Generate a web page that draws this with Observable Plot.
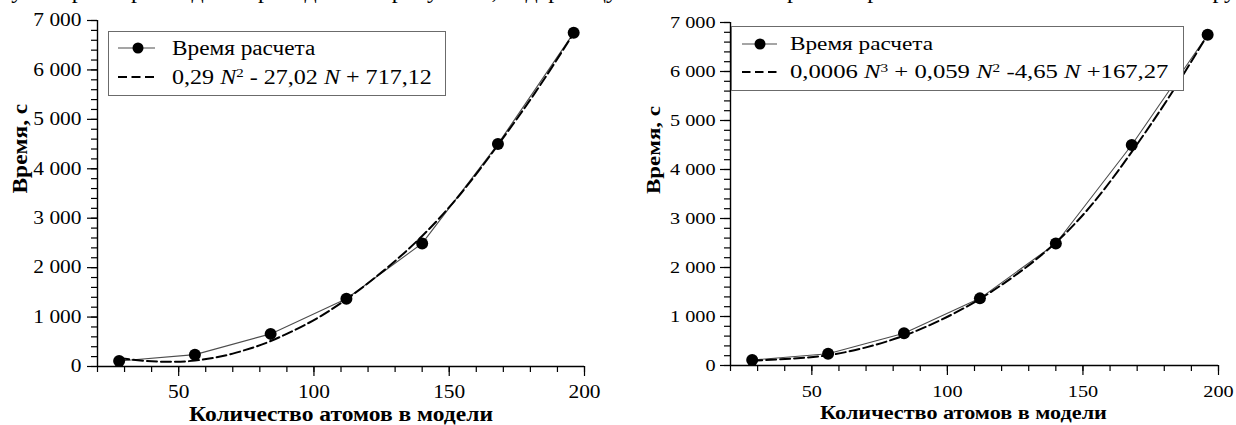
<!DOCTYPE html>
<html><head><meta charset="utf-8">
<script src="https://cdn.jsdelivr.net/npm/d3@7"></script>
<script src="https://cdn.jsdelivr.net/npm/@observablehq/plot@0.6"></script>
<style>
html,body{margin:0;padding:0;background:#fff;}
#root{position:relative;width:1236px;height:425px;overflow:hidden;font-family:"Liberation Serif","Times New Roman",serif;color:#000;}
.panel{position:absolute;top:0;}
.legend{position:absolute;box-sizing:border-box;border:1.5px solid #6b6b6b;background:#fff;}
.sw{position:absolute;left:0;top:0;overflow:visible;pointer-events:none}
.ltext{position:absolute;white-space:nowrap;display:inline-block;transform-origin:0 50%;line-height:24px;font-family:"Liberation Serif","Times New Roman",serif;}
.sup{font-size:0.62em;position:relative;top:-0.55em;line-height:0}
.topline{position:absolute;left:0;top:-22px;font-size:24px;line-height:24px;white-space:nowrap}
</style></head>
<body><div id="root"></div>
<script>
// ---- data ----
const atoms = [28, 56, 84, 112, 140, 168, 196];
const calcTime = [110, 240, 660, 1370, 2490, 4500, 6750];
const quadN = [28, 35, 42, 49, 56, 63, 70, 77, 84, 98, 112, 126, 140, 154, 168, 182, 196];
const quadTime = [170, 125, 100, 95, 120, 175, 260, 375, 515, 880, 1360, 1950, 2640, 3480, 4480, 5560, 6740];
const cubicN = [28, 42, 56, 70, 84, 98, 112, 126, 140, 154, 168, 182, 196];
const cubicTime = [95, 140, 210, 370, 610, 940, 1360, 1880, 2510, 3330, 4360, 5500, 6750];
const xTickValues = [50, 100, 150, 200];
const yTickValues = [0, 1000, 2000, 3000, 4000, 5000, 6000, 7000];
const xTitle = "Количество атомов в модели";
const yTitle = "Время, с";
const seriesName = "Время расчета";
const quadLabel = '0,29 <i>N</i><span class="sup">2</span> - 27,02 <i>N</i> + 717,12';
const cubicLabel = '0,0006 <i>N</i><span class="sup">3</span> + 0,059 <i>N</i><span class="sup">2</span> -4,65 <i>N</i> +167,27';
const topText = "ку и параметры модели приведены на рисунке 5, содержащую зависимость времени расчета от количества атомов в структуре и их аппроксимацию.";

const root = document.getElementById("root");
const fmt = d => d3.format(",")(d).replace(/,/g, " ");

function scaleX(t, s) {
  let tr = t.getAttribute("transform") || "";
  const x = +(t.getAttribute("x") || 0), y = +(t.getAttribute("y") || 0);
  if (x || y) { tr += ` translate(${x},${y})`; t.removeAttribute("x"); t.removeAttribute("y"); }
  t.setAttribute("transform", tr + ` scale(${s},1)`);
}

function textsOf(svg, label) {
  const out = [];
  svg.querySelectorAll(`[aria-label="${label}"]`).forEach(el => {
    if (el.tagName.toLowerCase() === "text") out.push(el);
    else el.querySelectorAll("text").forEach(t => out.push(t));
  });
  return out;
}

function makeChart(o) {
  const pts = atoms.map((n, i) => ({n, t: calcTime[i]}));
  const fit = o.fitN.map((n, i) => ({n, t: o.fitT[i]}));
  const svg = Plot.plot({
    width: o.width, height: 425,
    marginLeft: o.mL, marginRight: o.mR, marginTop: o.mT, marginBottom: o.mB,
    style: {fontFamily: '"Liberation Serif", "Times New Roman", serif', fontSize: o.fs + "px", color: "#000", background: "transparent", overflow: "visible"},
    x: {domain: [20, 200], label: null},
    y: {domain: [0, 7000], label: null},
    marks: [
      Plot.axisX({ticks: d3.range(20, 201, 10), tickSize: 6, tickFormat: () => "", label: null, strokeWidth: 1.2}),
      Plot.axisX({ticks: xTickValues, tickSize: 10, tickPadding: o.xPad, label: null, strokeWidth: 1.2, fontSize: o.fs}),
      Plot.axisY({ticks: d3.range(0, 7001, 200), tickSize: 6, tickFormat: () => "", label: null, strokeWidth: 1.2}),
      Plot.axisY({ticks: yTickValues, tickSize: 10, tickPadding: o.yPad, tickFormat: fmt, label: null, strokeWidth: 1.2, fontSize: o.fs}),
      Plot.ruleY([0], {strokeWidth: 1.4}),
      Plot.ruleX([20], {strokeWidth: 1.4}),
      Plot.line(pts, {x: "n", y: "t", stroke: "#4d4d4d", strokeWidth: 1.1}),
      Plot.line(fit, {x: "n", y: "t", stroke: "#000", strokeWidth: 2, strokeDasharray: "10,4", curve: "natural"}),
      Plot.dot(pts, {x: "n", y: "t", r: 6, fill: "#000", stroke: "none"}),
      Plot.text([xTitle], {text: d => d, frameAnchor: "bottom", lineAnchor: "bottom", dy: o.xTitleDy, dx: o.xTitleDx, fontWeight: "bold", fontSize: o.tfs, ariaLabel: () => "xtitle"}),
      Plot.text([yTitle], {text: d => d, frameAnchor: "left", dx: -77, rotate: -90, fontWeight: "bold", fontSize: o.tfs, ariaLabel: () => "ytitle"})
    ]
  });
  const wrap = document.createElement("div");
  wrap.className = "panel";
  wrap.style.left = o.left + "px";
  wrap.appendChild(svg);
  root.appendChild(wrap);
  svg.querySelectorAll('g[aria-label="x-axis tick label"] text, g[aria-label="y-axis tick label"] text').forEach(t => scaleX(t, 1.19));
  const fitW = (label, target) => textsOf(svg, label).forEach(t => { const w = t.getBBox().width; if (w > 0) scaleX(t, target / w); });
  fitW("xtitle", o.xTitleW);
  fitW("ytitle", o.yTitleW);
}

function makeLegend(o) {
  const box = document.createElement("div");
  box.className = "legend";
  Object.assign(box.style, {left: o.x0 + "px", top: o.y0 + "px", width: (o.x1 - o.x0) + "px", height: (o.y1 - o.y0) + "px"});
  root.appendChild(box);
  const ns = "http://www.w3.org/2000/svg";
  const sw = document.createElementNS(ns, "svg");
  sw.setAttribute("class", "sw"); sw.setAttribute("width", 1236); sw.setAttribute("height", 425);
  sw.innerHTML =
    `<line x1="${o.sx0}" x2="${o.sx1}" y1="${o.r1}" y2="${o.r1}" stroke="#4d4d4d" stroke-width="1.2"/>` +
    `<circle cx="${o.dot}" cy="${o.r1}" r="5.5" fill="#000"/>` +
    `<line x1="${o.sx0}" x2="${o.sx1}" y1="${o.r2}" y2="${o.r2}" stroke="#000" stroke-width="2" stroke-dasharray="${o.dash}"/>`;
  root.appendChild(sw);
  [[seriesName, o.r1, o.w1], [o.label, o.r2, o.w2]].forEach(([html, y, w]) => {
    const s = document.createElement("span");
    s.className = "ltext";
    s.innerHTML = html;
    Object.assign(s.style, {left: o.tx + "px", top: (y - 12) + "px", fontSize: o.fs + "px"});
    root.appendChild(s);
    const nat = s.offsetWidth;
    if (nat > 0) s.style.transform = `scaleX(${w / nat})`;
  });
}

const tl = document.createElement("div");
tl.className = "topline";
tl.textContent = topText;
root.appendChild(tl);

makeChart({left: 0, width: 620, mL: 97, mR: 36, mT: 20, mB: 59, fs: 18, tfs: 20, xPad: 9, yPad: 6,
  xTitleDy: 54.5, xTitleDx: 0, xTitleW: 304, yTitleW: 90, fitN: quadN, fitT: quadTime});
makeChart({left: 620, width: 616, mL: 110, mR: 18, mT: 22, mB: 60, fs: 17, tfs: 19, xPad: 9.5, yPad: 5,
  xTitleDy: 53, xTitleDx: -11, xTitleW: 287, yTitleW: 88, fitN: cubicN, fitT: cubicTime});

makeLegend({x0: 108, x1: 446, y0: 31, y1: 96, sx0: 118, sx1: 155, dot: 138, r1: 48, r2: 77, dash: "9,4.5",
  tx: 172, fs: 20, w1: 143, w2: 260, label: quadLabel});
makeLegend({x0: 731, x1: 1184, y0: 26, y1: 91, sx0: 742, sx1: 777, dot: 760, r1: 44, r2: 72, dash: "8.5,4.5",
  tx: 790, fs: 19, w1: 143, w2: 378, label: cubicLabel});
</script>
</body></html>
